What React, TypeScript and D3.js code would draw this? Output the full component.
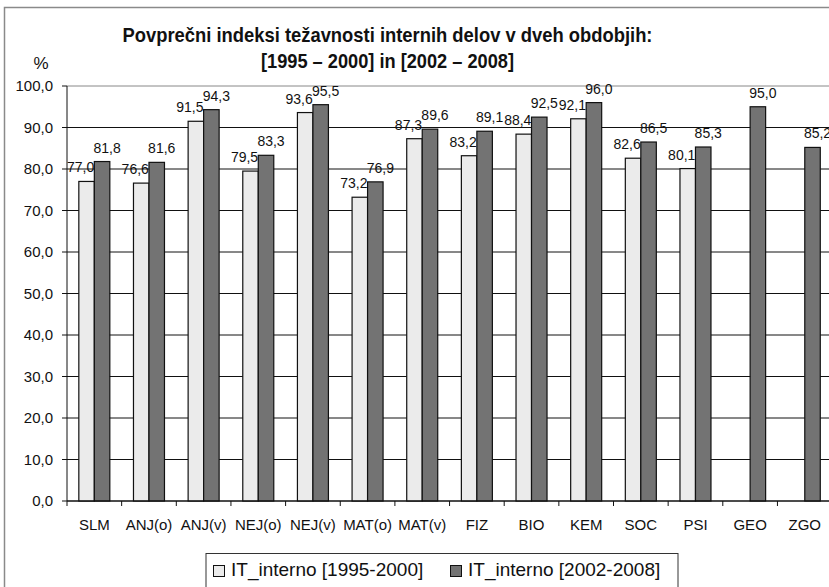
import React from "react";
import * as d3 from "d3";

const categories = ["SLM", "ANJ(o)", "ANJ(v)", "NEJ(o)", "NEJ(v)", "MAT(o)", "MAT(v)", "FIZ", "BIO", "KEM", "SOC", "PSI", "GEO", "ZGO"];
const series1: (number | null)[] = [77.0, 76.6, 91.5, 79.5, 93.6, 73.2, 87.3, 83.2, 88.4, 92.1, 82.6, 80.1, null, null];
const series2: (number | null)[] = [81.8, 81.6, 94.3, 83.3, 95.5, 76.9, 89.6, 89.1, 92.5, 96.0, 86.5, 85.3, 95.0, 85.2];
const seriesNames = ["IT_interno [1995-2000]", "IT_interno [2002-2008]"];
const yTicks = [0, 10, 20, 30, 40, 50, 60, 70, 80, 90, 100];
const titleLines = ["Povprečni indeksi težavnosti internih delov v dveh obdobjih:", "[1995 – 2000] in [2002 – 2008]"];

const W = 829;
const H = 587;
const FONT = "Liberation Sans, Arial, sans-serif";
const fmt = (v: number) => d3.format(".1f")(v).replace(".", ",");

export default function App() {
  const left = 67;
  const bandW = 54.65;
  const x = d3.scaleBand<string>().domain(categories).range([left, left + bandW * categories.length]).padding(0);
  const y = d3.scaleLinear().domain([0, 100]).range([501, 86]);
  const barW = 15.5;
  const gap = (x.bandwidth() - 2 * barW) / 2;
  const colors = ["#ebebeb", "#737373"];
  const all = [series1, series2];
  const plotRight = left + bandW * categories.length;
  const labelDx = [-6, 5];
  const titleWidths = [530, 253];

  return (
    <svg width={W} height={H} style={{ position: "absolute", left: 0, top: 0, background: "#fff" }} fontFamily={FONT}>
      <rect x={0} y={0} width={W} height={H} fill="#fff" />
      <rect x={4.5} y={7.5} width={W + 50} height={H + 50} fill="none" stroke="#8a8a8a" strokeWidth={1.5} />
      {titleLines.map((t, i) => (
        <text key={i} x={387.5} y={42 + i * 26} textAnchor="middle" fontSize={21} fontWeight="bold" fill="#111"
          textLength={titleWidths[i]} lengthAdjust="spacingAndGlyphs">{t}</text>
      ))}
      <text x={41} y={69} fontSize={17} textAnchor="middle" fill="#111">%</text>
      {/* gridlines */}
      {yTicks.map((t) => (
        <line key={t} x1={left} x2={plotRight} y1={y(t)} y2={y(t)} stroke={t === 100 ? "#888" : "#111"} strokeWidth={1} />
      ))}
      {/* y ticks and labels */}
      {yTicks.map((t) => (
        <g key={"yt" + t}>
          <line x1={left - 5} x2={left} y1={y(t)} y2={y(t)} stroke="#111" />
          <text x={53} y={y(t) + 5} textAnchor="end" fontSize={15} fill="#111">{fmt(t)}</text>
        </g>
      ))}
      {/* bars and labels, series by series */}
      {all.map((s, k) => (
        <g key={"s" + k}>
          {categories.map((c, i) => {
            const v = s[i];
            if (v == null) return null;
            const bx = (x(c) as number) + gap + k * barW;
            return (
              <rect key={c} x={bx} y={y(v)} width={barW} height={y(0) - y(v)} fill={colors[k]} stroke="#111" strokeWidth={1.2} />
            );
          })}
          {categories.map((c, i) => {
            const v = s[i];
            if (v == null) return null;
            const cx = (x(c) as number) + gap + k * barW + barW / 2;
            return (
              <text key={"l" + c} x={cx + labelDx[k]} y={y(v) - 9} textAnchor="middle" fontSize={14} fill="#111">{fmt(v)}</text>
            );
          })}
        </g>
      ))}
      {/* axes */}
      <line x1={left} x2={left} y1={y(100)} y2={y(0)} stroke="#111" />
      <line x1={left} x2={plotRight} y1={y(0)} y2={y(0)} stroke="#111" />
      {categories.map((c) => (
        <line key={"xt" + c} x1={x(c) as number} x2={x(c) as number} y1={y(0)} y2={y(0) + 5} stroke="#111" />
      ))}
      {categories.map((c) => (
        <text key={"xl" + c} x={(x(c) as number) + x.bandwidth() / 2} y={530} textAnchor="middle" fontSize={15} fill="#111">{c}</text>
      ))}
      {/* legend */}
      <rect x={206} y={553.5} width={472} height={45} fill="#fff" stroke="#333" strokeWidth={1} />
      {seriesNames.map((n, k) => {
        const lx = k === 0 ? 213 : 450;
        return (
          <g key={n}>
            <rect x={lx + 0.5} y={565.5} width={11} height={11} fill={colors[k]} stroke="#111" />
            <text x={lx + 18} y={576} fontSize={19} fill="#111">{n}</text>
          </g>
        );
      })}
    </svg>
  );
}
